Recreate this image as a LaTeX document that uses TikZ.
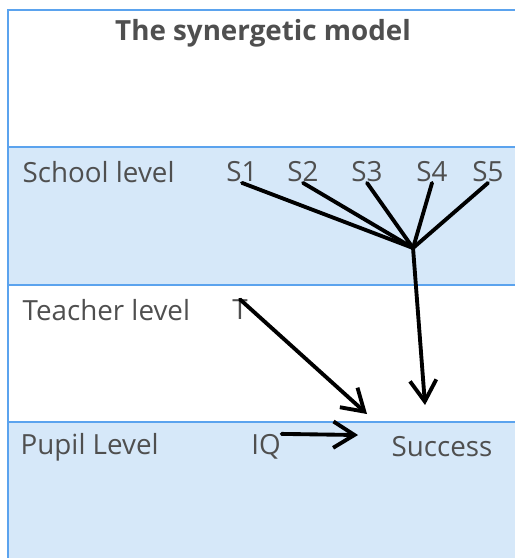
\documentclass[tikz,border=0pt]{standalone}
\usepackage{fontspec}
\setmainfont{Open Sans}
\usepackage{tikz}
\usetikzlibrary{positioning,arrows.meta}

\definecolor{bandblue}{HTML}{D6E8F9}
\definecolor{edgeblue}{HTML}{5BA3EE}
\definecolor{txtgrey}{HTML}{4F4F4F}

\begin{document}
\begin{tikzpicture}[scale=0.1]
\tikzstyle{every node}+=[inner sep=0pt, text=txtgrey, font=\fontsize{7.9}{9}\selectfont]
\tikzstyle{lbl}=[anchor=west]
\tikzstyle{edge}=[black, line width=1.1pt, line cap=round]
\tikzstyle{arr}=[edge, -{Straight Barb[length=6pt,width=7.5pt,line width=1.1pt]}]
\useasboundingbox (0,0) rectangle (51.5,-55.8);
% bands
\fill [white] (0,0) rectangle (51.5,-55.8);
\fill [bandblue] (0.8,-14.7) rectangle (51.5,-28.5);
\fill [bandblue] (0.8,-42.2) rectangle (51.5,-55.8);
\draw [edgeblue, line width=0.6pt] (0.8,-55.8) -- (0.8,-1.0) -- (51.5,-1.0);
\draw [edgeblue, line width=0.8pt] (0.8,-14.7) -- (51.5,-14.7);
\draw [edgeblue, line width=0.6pt] (0.8,-28.5) -- (51.5,-28.5);
\draw [edgeblue, line width=0.6pt] (0.8,-42.2) -- (51.5,-42.2);
% texts
\node (title) at (26.3,-3.3) {\bfseries The synergetic model};
\node [lbl] (school) at (2.2,-17.2) {School level};
\node [lbl] (teacher) at (2.2,-31.0) {Teacher level};
\node [lbl] (pupil) at (2.0,-44.7) {Pupil Level};
\node (s1) at (24.2,-17.2) {S1};
\node (s2) at (30.3,-17.2) {S2};
\node (s3) at (36.7,-17.2) {S3};
\node (s4) at (43.2,-17.2) {S4};
\node (s5) at (48.8,-17.2) {S5};
\node (t) at (24.0,-31.0) {T};
\node (iq) at (26.6,-44.7) {IQ};
\node (success) at (44.2,-44.7) {Success};
\coordinate (jn) at (41.3,-24.8);
\coordinate (sdown) at (42.5,-40.5);
\coordinate (tend) at (36.7,-41.4);
\coordinate (iqend) at (35.8,-43.5);
% connectors
\foreach \s in {s1,s2,s3,s4,s5}
  \draw [edge] (\s.south) -- (jn);
\draw [arr] (jn) -- (sdown);
\draw [arr] (t.north) -- (tend);
\draw [arr] ([xshift=0.5pt]iq.north east) -- (iqend);
\end{tikzpicture}
\end{document}
